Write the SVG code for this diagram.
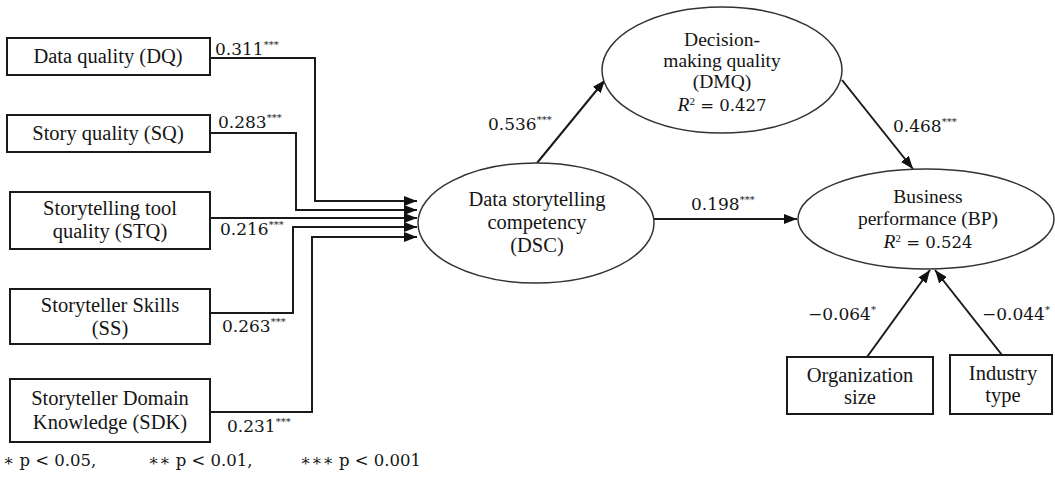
<svg xmlns="http://www.w3.org/2000/svg" width="1055" height="477" viewBox="0 0 1055 477">
<style>
.box{fill:#fff;stroke:#1a1a1a;stroke-width:2}
.ell{fill:#fff;stroke:#333;stroke-width:1.5}
.lbl{font-family:"Liberation Serif","Times New Roman",serif;font-size:20.5px;fill:#151515;text-anchor:middle}
.sm{font-size:19.5px}
.mth{font-family:"DejaVu Serif",serif;font-size:16.5px}
.num{font-family:"DejaVu Serif",serif;font-size:17px;fill:#151515}
.sup{font-size:10px}
.con{fill:none;stroke:#1a1a1a;stroke-width:2}
.leg{font-family:"DejaVu Serif",serif;font-size:16.5px;fill:#151515}
</style>
<defs>
<marker id="ah" markerUnits="userSpaceOnUse" markerWidth="14" markerHeight="10" refX="13" refY="5" orient="auto">
<path d="M0,0 L13,5 L0,10 z" fill="#111"/>
</marker>
</defs>
<rect width="1055" height="477" fill="#fff"/>

<g id="connectors">
<path class="con" d="M210,58 H315 V201 H417" marker-end="url(#ah)"/>
<path class="con" d="M210,133 H296 V210 H417" marker-end="url(#ah)"/>
<path class="con" d="M210,218 H417" marker-end="url(#ah)"/>
<path class="con" d="M210,313 H293 V227 H417" marker-end="url(#ah)"/>
<path class="con" d="M210,412 H312 V237 H417" marker-end="url(#ah)"/>
<path class="con" d="M537,163 L605,80" marker-end="url(#ah)"/>
<path class="con" d="M654,219 L797,219" marker-end="url(#ah)"/>
<path class="con" d="M842,80 L913,169" marker-end="url(#ah)"/>
<path class="con" d="M867,357 L930,270" marker-end="url(#ah)"/>
<path class="con" d="M1002,355 L935,270" marker-end="url(#ah)"/>
</g>

<g id="labels">
<text class="num" x="215" y="55">0.311<tspan class="sup" dy="-7">***</tspan></text>
<text class="num" x="218" y="128">0.283<tspan class="sup" dy="-7">***</tspan></text>
<text class="num" x="220" y="235">0.216<tspan class="sup" dy="-7">***</tspan></text>
<text class="num" x="222" y="332">0.263<tspan class="sup" dy="-7">***</tspan></text>
<text class="num" x="227" y="432">0.231<tspan class="sup" dy="-7">***</tspan></text>
<text class="num" x="488" y="130">0.536<tspan class="sup" dy="-7">***</tspan></text>
<text class="num" x="691" y="210">0.198<tspan class="sup" dy="-7">***</tspan></text>
<text class="num" x="893" y="132">0.468<tspan class="sup" dy="-7">***</tspan></text>
<text class="num" x="808" y="320">−0.064<tspan class="sup" dy="-7">*</tspan></text>
<text class="num" x="982" y="320">−0.044<tspan class="sup" dy="-7">*</tspan></text>
</g>

<g id="DQ">
<rect class="box" x="7" y="38" width="203" height="37"/>
<text class="lbl" x="108" y="63">Data quality (DQ)</text>
</g>
<g id="SQ">
<rect class="box" x="7" y="115" width="203" height="37"/>
<text class="lbl" x="108" y="140">Story quality (SQ)</text>
</g>
<g id="STQ">
<rect class="box" x="10" y="192" width="200" height="57"/>
<text class="lbl" x="110" y="215">Storytelling tool</text>
<text class="lbl" x="110" y="238">quality (STQ)</text>
</g>
<g id="SS">
<rect class="box" x="10" y="289" width="200" height="55"/>
<text class="lbl" x="110" y="312">Storyteller Skills</text>
<text class="lbl" x="110" y="335">(SS)</text>
</g>
<g id="SDK">
<rect class="box" x="10" y="379" width="200" height="63"/>
<text class="lbl" x="110" y="405">Storyteller Domain</text>
<text class="lbl" x="110" y="429">Knowledge (SDK)</text>
</g>

<g id="DSC">
<ellipse class="ell" cx="536" cy="223" rx="118" ry="60"/>
<text class="lbl" x="537" y="206">Data storytelling</text>
<text class="lbl" x="537" y="229">competency</text>
<text class="lbl" x="537" y="252">(DSC)</text>
</g>

<g id="DMQ">
<ellipse class="ell" cx="722" cy="70" rx="120" ry="63"/>
<text class="lbl sm" x="722" y="46">Decision-</text>
<text class="lbl sm" x="722" y="67">making quality</text>
<text class="lbl sm" x="722" y="88">(DMQ)</text>
<text class="lbl sm" x="722" y="111"><tspan font-style="italic">R</tspan><tspan font-size="11" dy="-6">2</tspan><tspan class="mth" dy="6"> = 0.427</tspan></text>
</g>

<g id="BP">
<ellipse class="ell" cx="926" cy="219" rx="128" ry="50"/>
<text class="lbl sm" x="928" y="203">Business</text>
<text class="lbl sm" x="928" y="225">performance (BP)</text>
<text class="lbl sm" x="928" y="248"><tspan font-style="italic">R</tspan><tspan font-size="11" dy="-6">2</tspan><tspan class="mth" dy="6"> = 0.524</tspan></text>
</g>

<g id="OrgSize">
<rect class="box" x="787" y="357" width="146" height="57"/>
<text class="lbl" x="860" y="382">Organization</text>
<text class="lbl" x="860" y="404">size</text>
</g>
<g id="IndustryType">
<rect class="box" x="950" y="355" width="102" height="59"/>
<text class="lbl" x="1003" y="380">Industry</text>
<text class="lbl" x="1003" y="402">type</text>
</g>

<g id="legend">
<text class="leg" x="3" y="466">∗ p &lt; 0.05,</text>
<text class="leg" x="148" y="466">∗∗ p &lt; 0.01,</text>
<text class="leg" x="300" y="466">∗∗∗ p &lt; 0.001</text>
</g>
</svg>
